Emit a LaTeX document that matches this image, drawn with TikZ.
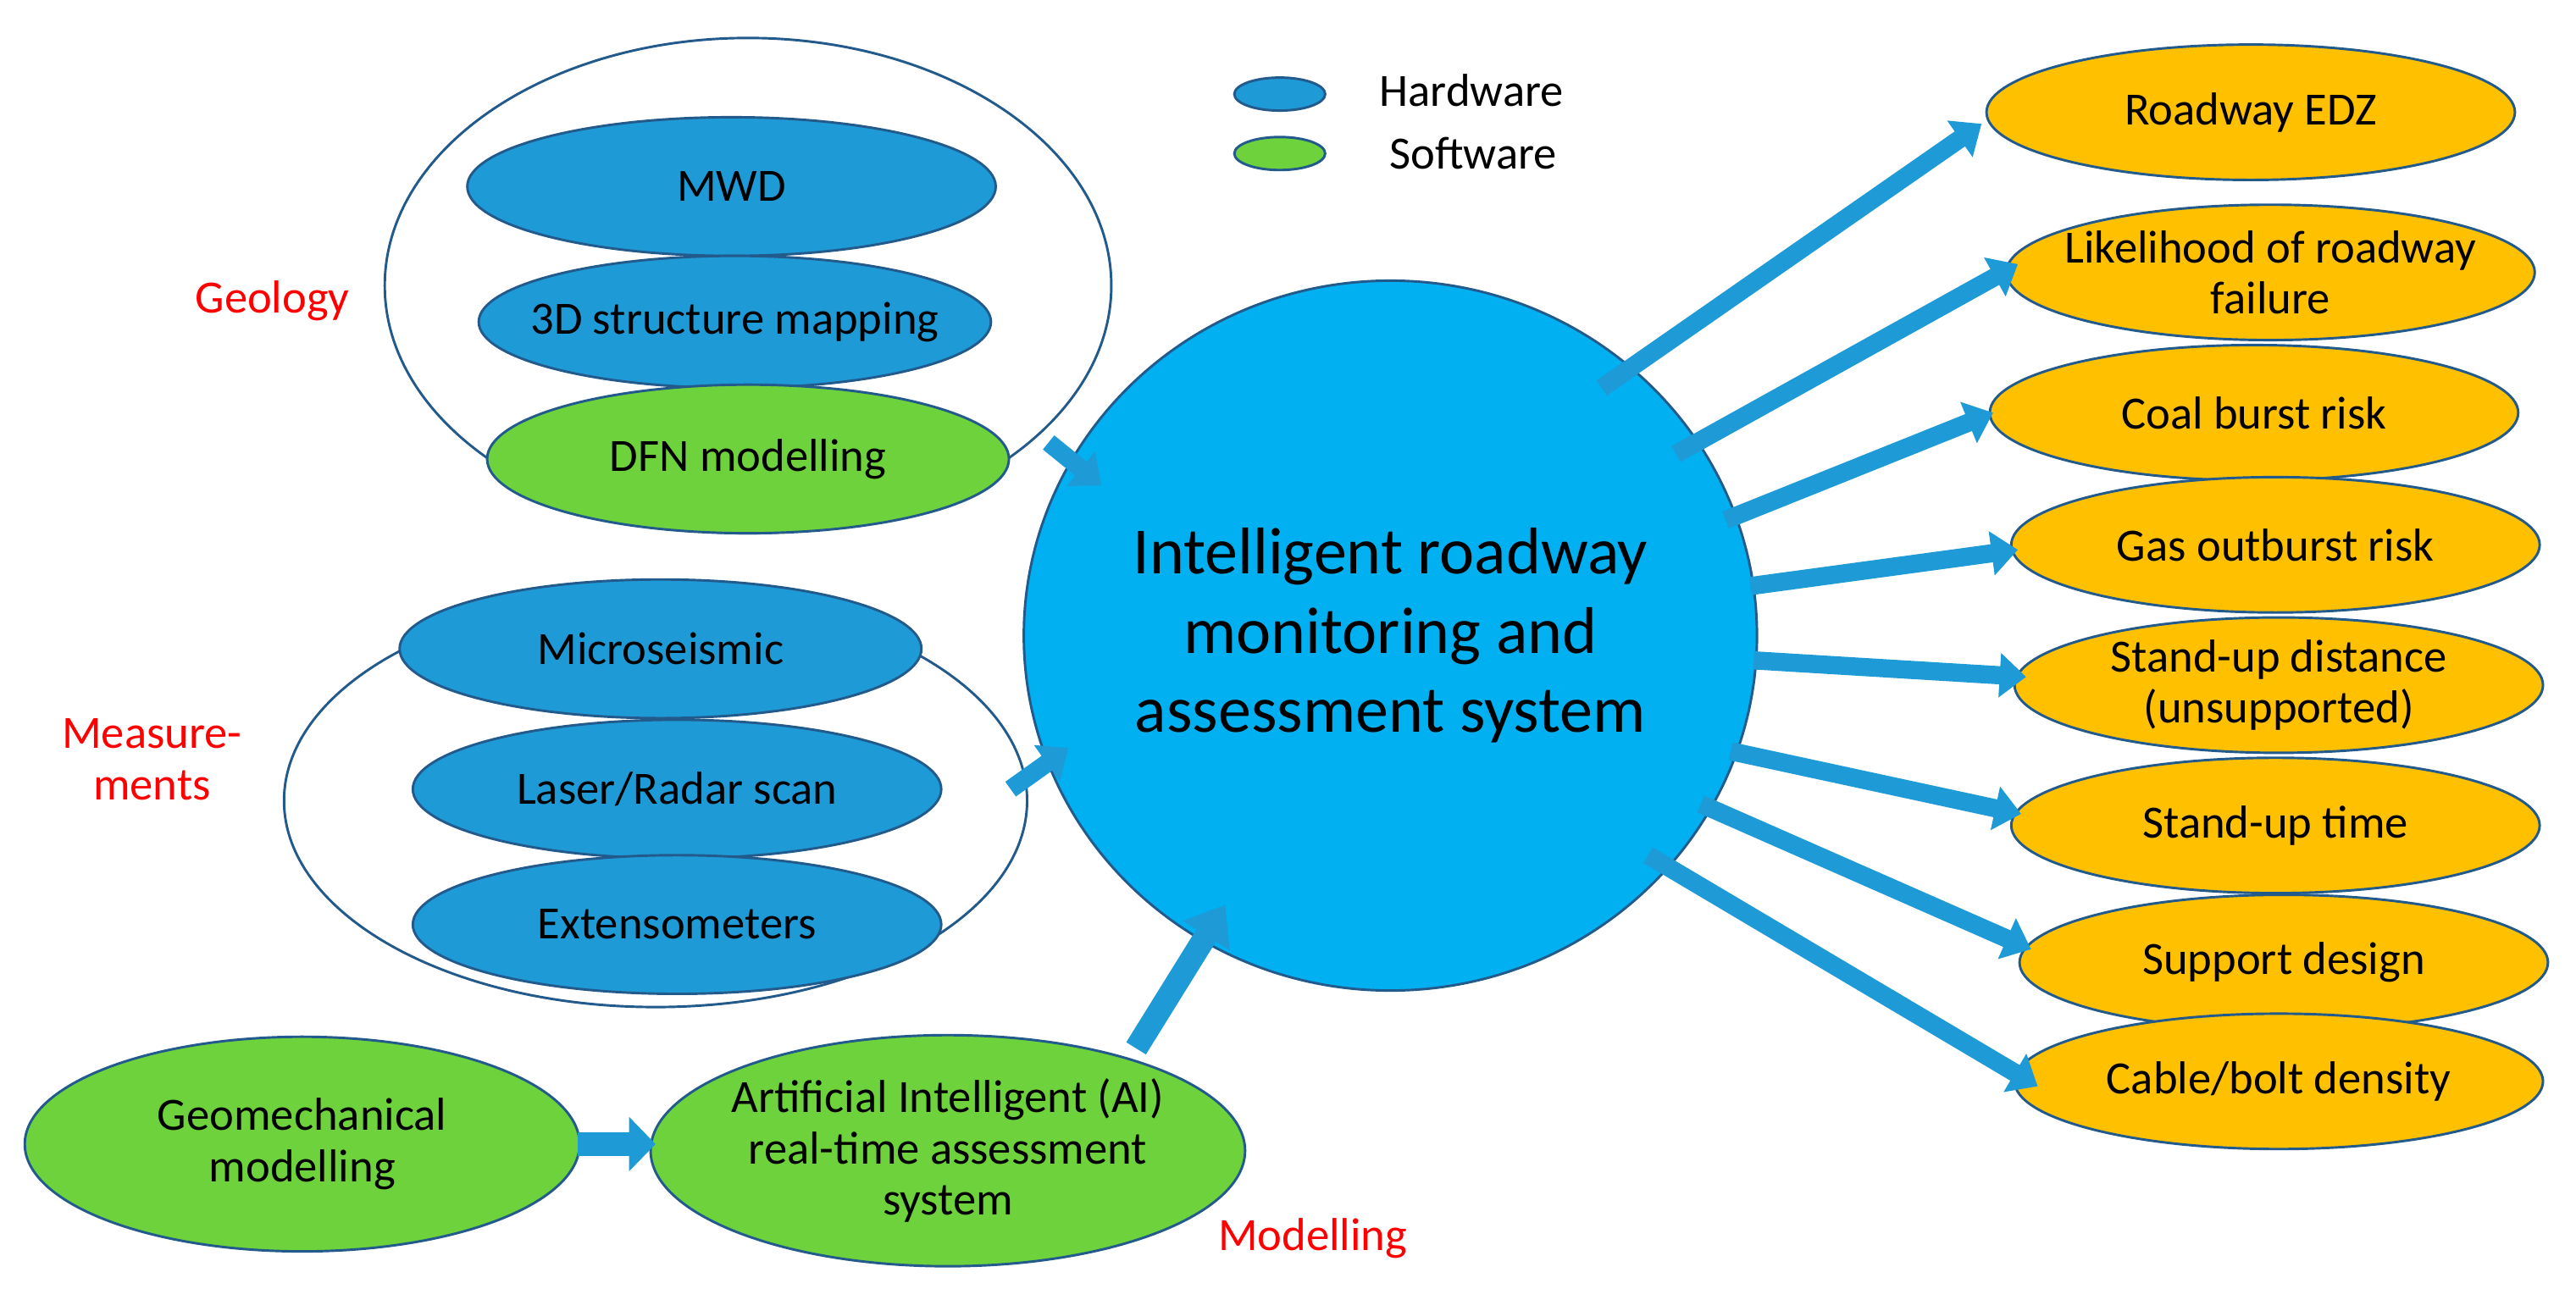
\documentclass[tikz,border=0pt]{standalone}
\usepackage{fontspec}
\setmainfont{Carlito}
\usetikzlibrary{shapes.geometric,arrows.meta}
\definecolor{hw}{RGB}{30,155,215}
\definecolor{sw}{RGB}{110,210,60}
\definecolor{cen}{RGB}{0,176,240}
\definecolor{org}{RGB}{255,192,0}
\definecolor{edge}{RGB}{35,90,140}
\tikzset{
 el/.style={ellipse,draw=edge,line width=1.5pt,inner sep=-14pt,align=center,font=\fontsize{28}{31}\selectfont},
 hwn/.style={el,fill=hw},
 swn/.style={el,fill=sw},
 orn/.style={el,fill=org,minimum width=320pt,minimum height=82pt},
 grp/.style={ellipse,draw=edge,line width=1.5pt,inner sep=0pt},
 lab/.style={text=red,font=\fontsize{28}{31}\selectfont,align=center},
 barrow/.style={draw=hw,line width=11pt,-{Triangle[length=16pt,width=26pt]}},
}
\begin{document}
\begin{tikzpicture}[x=1pt,y=-1pt]
\useasboundingbox (0,0) rectangle (1560,794);
% legend
\node[hwn,minimum width=55pt,minimum height=20pt] (lh) at (775,57) {};
\node[anchor=west,font=\fontsize{28}{31}\selectfont] (lht) at (832,55) {Hardware};
\node[swn,minimum width=55pt,minimum height=20pt] (ls) at (775,93) {};
\node[anchor=west,font=\fontsize{28}{31}\selectfont] (lst) at (838,93) {Software};
% geology group
\node[grp,minimum width=440pt,minimum height=300pt] (gg) at (453,173) {};
\node[hwn,minimum width=320pt,minimum height=84pt] (mwd) at (443,113) {MWD};
\node[hwn,minimum width=300pt,minimum height=80pt] (sd) at (445,195) {3D structure mapping};
\node[swn,minimum width=316pt,minimum height=90pt] (dfn) at (453,278) {DFN modelling};
\node[lab] (geo) at (165,182) {Geology};
% measurement group
\node[grp,minimum width=450pt,minimum height=250pt] (mg) at (397,485) {};
\node[hwn,minimum width=316pt,minimum height=84pt] (mic) at (400,393) {Microseismic};
\node[hwn,minimum width=320pt,minimum height=84pt] (las) at (410,478) {Laser/Radar scan};
\node[hwn,minimum width=320pt,minimum height=84pt] (ext) at (410,560) {Extensometers};
\node[lab] (mea) at (92,460) {Measure-\\ments};
% modelling
\node[swn,minimum width=336pt,minimum height=130pt] (geom) at (183,693) {Geomechanical\\modelling};
\node[swn,minimum width=360pt,minimum height=140pt] (ai) at (574,697) {Artificial Intelligent (AI)\\real-time assessment\\system};
\node[lab] (mod) at (795,750) {Modelling};
% center
\node[ellipse,fill=cen,draw=edge,line width=1.5pt,minimum width=444pt,minimum height=430pt,inner sep=0pt,align=center,font=\fontsize{40}{48}\selectfont] (c) at (842,385) {Intelligent roadway\\monitoring and\\assessment system};
% outputs
\node[orn] (r1) at (1363,68) {Roadway EDZ};
\node[orn] (r2) at (1375,165) {Likelihood of roadway\\failure};
\node[orn] (r3) at (1365,250) {Coal burst risk};
\node[orn] (r4) at (1378,330) {Gas outburst risk};
\node[orn] (r5) at (1380,415) {Stand-up distance\\(unsupported)};
\node[orn] (r6) at (1378,500) {Stand-up time};
\node[orn] (r7) at (1383,583) {Support design};
\node[orn] (r8) at (1380,655) {Cable/bolt density};
% arrow start/end coords
\coordinate (s1) at (970,235); \coordinate (e1) at (1200,75);
\coordinate (s2) at (1015,275); \coordinate (e2) at (1222,160);
\coordinate (s3) at (1045,315); \coordinate (e3) at (1207,250);
\coordinate (s4) at (1060,355); \coordinate (e4) at (1222,333);
\coordinate (s5) at (1062,400); \coordinate (e5) at (1227,410);
\coordinate (s6) at (1048,455); \coordinate (e6) at (1224,493);
\coordinate (s7) at (1030,487); \coordinate (e7) at (1230,575);
\coordinate (s8) at (998,518); \coordinate (e8) at (1234,658);
\foreach \i in {1,...,8}{\draw[barrow] (s\i) -- (e\i);}
\coordinate (g1) at (635,268); \coordinate (g2) at (667,294);
\coordinate (m1) at (612,478); \coordinate (m2) at (647,453);
\coordinate (a1) at (688,635); \coordinate (a2) at (742,548);
\coordinate (q1) at (350,693); \coordinate (q2) at (397,693);
\draw[barrow] (g1) -- (g2);
\draw[barrow] (m1) -- (m2);
\draw[barrow,line width=14pt,-{Triangle[length=22pt,width=32pt]}] (a1) -- (a2);
\draw[barrow,line width=14pt,-{Triangle[length=16pt,width=32pt]}] (q1) -- (q2);
\end{tikzpicture}
\end{document}
